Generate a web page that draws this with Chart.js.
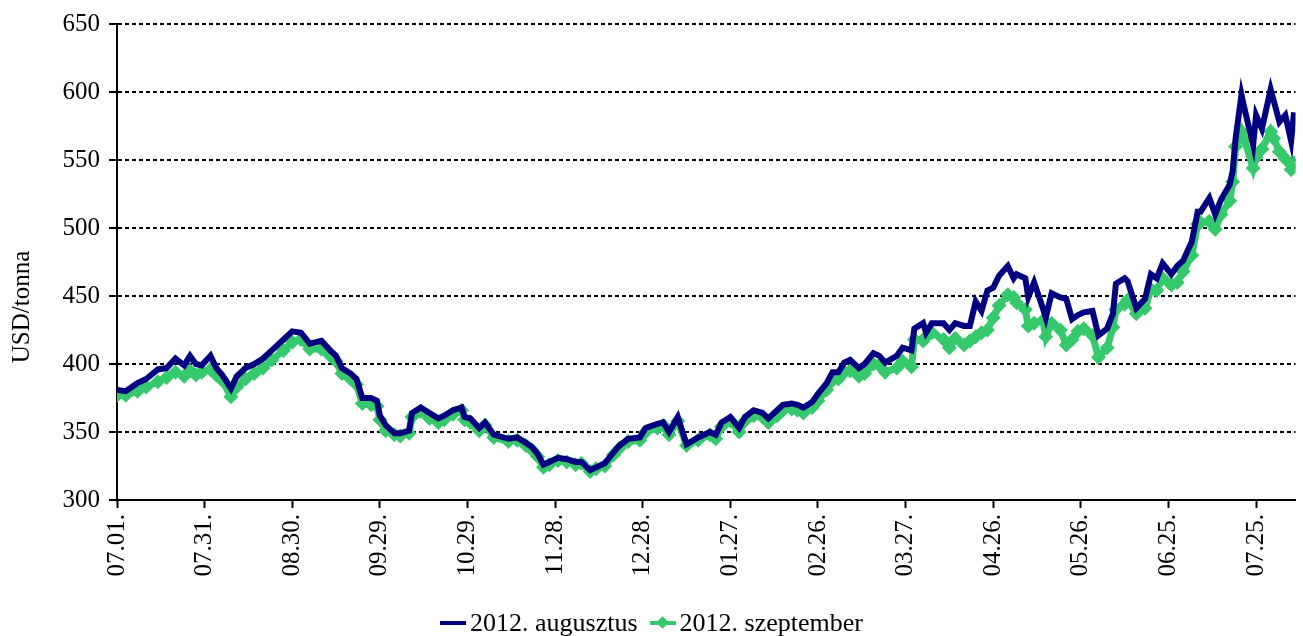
<!DOCTYPE html>
<html>
<head>
<meta charset="utf-8">
<script src="https://cdn.jsdelivr.net/npm/chart.js@4"></script>
<style>
  html, body { margin: 0; padding: 0; background: #fff; }
  #wrap { position: relative; width: 1303px; height: 636px; }
  #legend { position: absolute; left: 440px; top: 608px; display: flex; align-items: center;
            font-family: "Liberation Serif", serif; font-size: 26px; color: #000; white-space: nowrap; }
  .sw { position: relative; width: 26px; height: 4px; margin-right: 4px; }
  .dia { position: absolute; left: 8px; top: -3px; width: 9px; height: 9px; transform: rotate(45deg); }
</style>
</head>
<body>
<div id="wrap">
  <canvas id="c" width="1303" height="636"></canvas>
  <div id="legend">
    <span class="sw" style="background:#000080"></span><span>2012. augusztus</span>
    <span class="sw" style="background:#35c96b;margin-left:12px"><span class="dia" style="background:#35c96b"></span></span><span>2012. szeptember</span>
  </div>
</div>
<script>
(()=>{
// napok 2011.07.01-től számolva
const days = [0,3,7,10,14,17,20,23,25,27,29,32,34,36,39,41,44,47,50,53,57,60,63,66,70,73,75,77,80,82,84,87,89,90,92,95,97,100,101,104,107,110,112,115,118,119,121,124,126,129,134,137,140,142,144,146,148,151,154,157,159,162,164,167,170,172,175,179,181,185,187,189,192,195,199,203,205,207,210,213,215,218,221,223,226,228,231,233,235,238,240,243,245,247,249,251,254,256,259,261,263,267,269,272,273,276,277,279,283,285,287,290,292,294,296,298,300,302,305,307,308,311,312,314,317,318,320,323,325,327,329,331,334,336,339,341,342,345,346,349,352,354,356,358,361,363,365,368,370,371,374,376,378,381,382,383,385,386,389,390,392,395,396,398,400,402,403];
const augusztus = [381,380,386,389,396,397,404,399,406,400,399,406,397,392,382,391,397,400,404,410,418,424,423,415,417,410,406,397,393,389,375,375,373,362,355,349,349,351,364,368,364,360,362,366,368,361,360,353,357,348,345,346,342,339,334,326,328,331,330,328,328,322,324,327,335,340,345,346,353,356,357,350,361,341,346,350,348,357,361,353,361,366,364,360,366,370,371,370,368,372,378,386,394,394,401,403,397,400,408,406,401,406,412,410,426,430,423,430,430,425,430,428,428,446,439,454,456,465,472,463,466,463,449,460,441,434,452,449,448,433,436,438,439,421,426,437,459,463,461,441,448,466,463,474,466,472,476,490,512,512,522,510,521,532,542,566,598,588,561,583,573,602,594,578,583,564,585];
const szeptember = [377,377,380,383,387,390,394,391,395,392,394,396,392,388,376,383,389,393,397,403,410,416,418,411,411,406,402,393,389,385,371,370,369,359,351,348,347,349,361,365,360,357,359,363,366,359,357,351,355,346,343,344,340,337,332,324,326,329,328,326,327,321,323,325,333,338,343,344,350,353,355,348,358,340,344,348,345,354,358,350,358,362,361,357,362,366,367,366,364,368,373,381,388,389,394,395,391,393,400,399,394,397,402,398,418,417,420,423,418,412,419,414,417,420,423,425,434,443,451,449,445,440,428,430,432,420,430,425,414,418,424,426,421,405,412,427,440,444,447,437,441,455,454,463,458,460,468,480,503,504,505,499,510,520,534,560,571,565,544,552,558,571,566,556,551,543,548];
const tickLabels = ['07.01.','07.31.','08.30.','09.29.','10.29.','11.28.','12.28.','01.27.','02.26.','03.27.','04.26.','05.26.','06.25.','07.25.'];

const font = { family: 'Liberation Serif', size: 25 };
const navy = '#000080';
const green = '#35c96b';

// y tengely felirat
const yTitle = {
  id: 'yTitle',
  afterDraw(chart) {
    const ctx = chart.ctx;
    ctx.save();
    ctx.translate(22, 307);
    ctx.rotate(-Math.PI / 2);
    ctx.font = '25px "Liberation Serif"';
    ctx.fillStyle = '#000';
    ctx.textAlign = 'center';
    ctx.textBaseline = 'middle';
    ctx.fillText('USD/tonna', 0, 0);
    ctx.restore();
  }
};

new Chart(document.getElementById('c'), {
  type: 'line',
  data: {
    datasets: [{
      label: '2012. augusztus',
      data: days.map((d, i) => ({ x: d, y: augusztus[i] })),
      borderColor: navy,
      borderWidth: 6,
      pointRadius: 0,
      tension: 0
    }, {
      label: '2012. szeptember',
      data: days.map((d, i) => ({ x: d, y: szeptember[i] })),
      borderColor: green,
      backgroundColor: green,
      borderWidth: 7,
      pointStyle: 'rectRot',
      pointRadius: 7.5,
      pointBorderWidth: 0,
      pointBackgroundColor: green,
      tension: 0
    }]
  },
  options: {
    responsive: false,
    animation: false,
    layout: { padding: { top: 22, left: 0, right: 0, bottom: 0 } },
    plugins: { legend: { display: false }, tooltip: { enabled: false } },
    scales: {
      x: {
        type: 'linear',
        min: 0,
        max: 403.5,
        afterBuildTicks: s => { s.ticks = tickLabels.map((t, i) => ({ value: i * 30 })); },
        afterFit: s => { s.height = 136; },
        ticks: {
          color: '#000', font, padding: 6, minRotation: 90, maxRotation: 90, autoSkip: false,
          callback: v => tickLabels[Math.round(v / 30)]
        },
        grid: { drawOnChartArea: false, drawTicks: true, tickLength: 8, tickColor: '#000', tickWidth: 2 },
        border: { color: '#000', width: 2 }
      },
      y: {
        min: 300,
        max: 650,
        afterFit: s => { s.width = 117; },
        ticks: { stepSize: 50, color: '#000', font, padding: 9 },
        grid: { color: '#000', lineWidth: 2, tickLength: 8, tickColor: '#000', tickWidth: 2, tickBorderDash: [] },
        border: { color: '#000', width: 2, dash: [4, 3] }
      }
    }
  },
  plugins: [yTitle]
});
})();
</script>
</body>
</html>
